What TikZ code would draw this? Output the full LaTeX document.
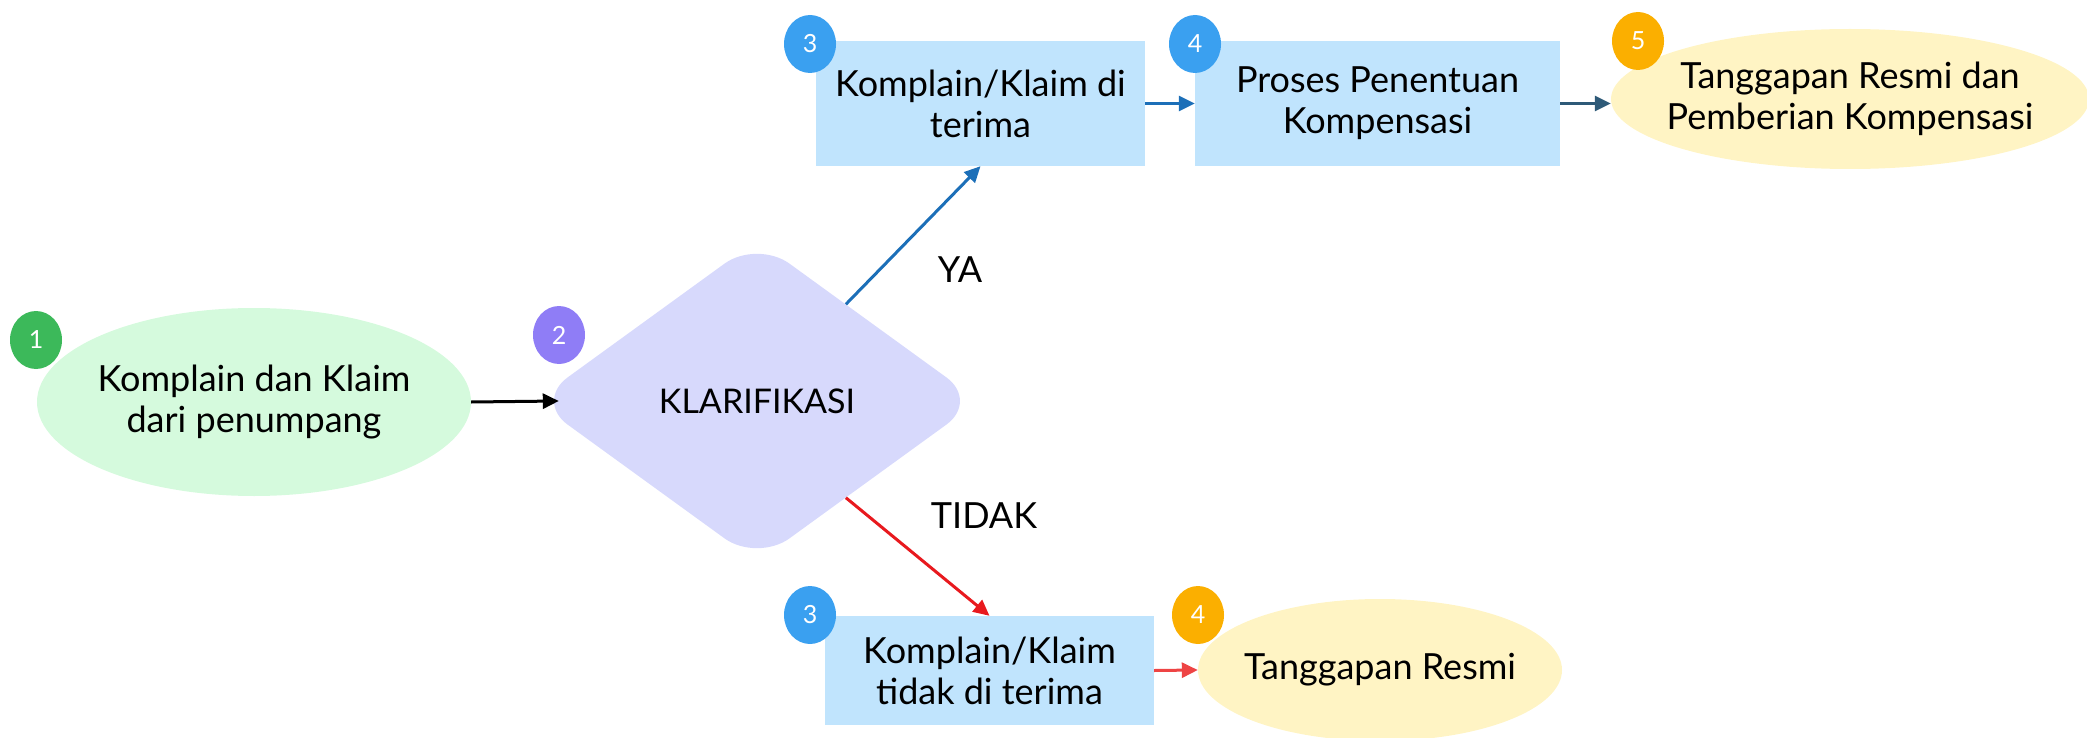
\documentclass[tikz,border=0pt]{standalone}
\usepackage{fontspec}
\setmainfont{Lato}
\usetikzlibrary{shapes.geometric,arrows.meta,calc}
\definecolor{gfill}{HTML}{D5FADD}
\definecolor{gbadge}{HTML}{3CB95A}
\definecolor{pbadge}{HTML}{8F7DF6}
\definecolor{dfill}{HTML}{D7D9FC}
\definecolor{bfill}{HTML}{C0E4FD}
\definecolor{bbadge}{HTML}{3AA0F0}
\definecolor{obadge}{HTML}{FBAF00}
\definecolor{yfill}{HTML}{FFF4C4}
\definecolor{barrow}{HTML}{1C6FB8}
\definecolor{sarrow}{HTML}{2E5A78}
\definecolor{rarrow}{HTML}{E8191E}
\definecolor{rarrowb}{HTML}{EE4444}
\tikzset{
  txt/.style={font=\fontsize{36}{41}\selectfont, align=center, text=black, inner sep=0pt},
  ellnode/.style={txt, ellipse, inner xsep=-60pt, inner ysep=-20pt},
  boxnode/.style={txt, rectangle, fill=bfill},
  badge/.style={ellipse, minimum width=52pt, minimum height=58pt, inner sep=0pt, text=white, font=\fontsize{25}{25}\selectfont},
  conn/.style={line width=3pt, -{Triangle[length=16pt,width=15pt]}},
}
\begin{document}
\begin{tikzpicture}[x=1pt,y=-1pt]
\useasboundingbox (0,0) rectangle (2087,738);
% left ellipse
\node[ellnode, fill=gfill, minimum width=434pt, minimum height=188pt] (e1) at (254,402) {Komplain dan Klaim\\dari penumpang};
\node[badge, fill=gbadge] (b1) at (36,340) {1};
% diamond
\node[txt, diamond, fill=dfill, minimum width=444pt, minimum height=322pt, rounded corners=40pt, font=\fontsize{34}{40}\selectfont] (kl) at (757,401) {KLARIFIKASI};
\node[badge, fill=pbadge] (b2) at (559,335) {2};
% top row
\node[boxnode, minimum width=329pt, minimum height=125pt] (box3) at (980.5,103.5) {Komplain/Klaim di\\terima};
\node[badge, fill=bbadge] (b3) at (810,44) {3};
\node[boxnode, minimum width=365pt, minimum height=125pt] (box4) at (1377.5,103.5) {Proses Penentuan\\Kompensasi};
\node[badge, fill=bbadge] (b4) at (1195,44) {4};
\node[ellnode, fill=yfill, minimum width=478pt, minimum height=140pt] (e5) at (1850,99) {Tanggapan Resmi dan\\Pemberian Kompensasi};
\node[badge, fill=obadge] (b5) at (1638,41) {5};
% bottom row
\node[boxnode, minimum width=329pt, minimum height=109pt] (box3b) at (989.5,670.5) {Komplain/Klaim\\tidak di terima};
\node[badge, fill=bbadge] (b3b) at (810,615) {3};
\node[ellnode, fill=yfill, minimum width=364pt, minimum height=142pt] (e4b) at (1380,670) {Tanggapan Resmi};
\node[badge, fill=obadge] (b4b) at (1198,615) {4};
% labels
\node[txt] (ya) at (960,270) {YA};
\node[txt] (tidak) at (984,516) {TIDAK};
% connectors
\coordinate (klin) at ([xshift=24pt]kl.west);
\coordinate (kltop) at ($(kl.north)!0.4!(kl.east)$);
\coordinate (klbot) at ($(kl.east)!0.6!(kl.south)$);
\draw[conn, black] (e1.east) -- (klin);
\draw[conn, barrow] (kltop) -- (box3.south);
\draw[conn, rarrow] (klbot) -- (box3b.north);
\draw[conn, barrow] (box3.east) -- (box4.west);
\draw[conn, sarrow] (box4.east) -- (box4.east -| e5.west);
\draw[conn, rarrowb] (box3b.east) -- (e4b.west);
\end{tikzpicture}
\end{document}
